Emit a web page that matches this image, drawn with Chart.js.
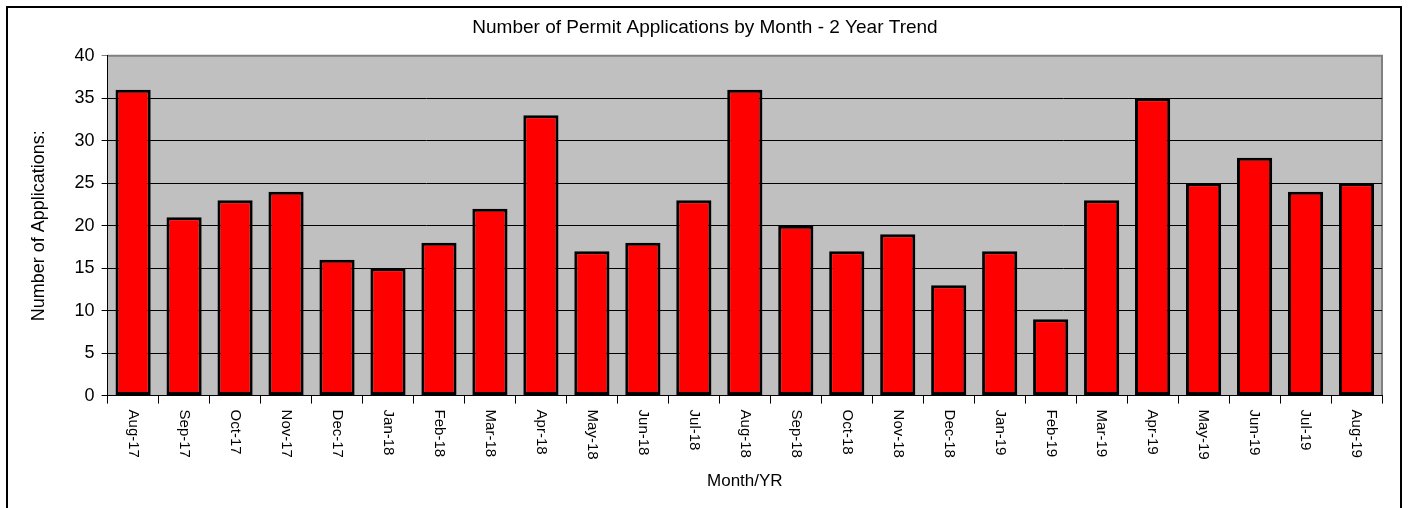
<!DOCTYPE html>
<html>
<head>
<meta charset="utf-8">
<script src="https://cdn.jsdelivr.net/npm/chart.js@4"></script>
<style>
  html, body { margin: 0; padding: 0; background: #fff; }
  #wrap { width: 1408px; height: 508px; position: relative; }
</style>
</head>
<body>
<div id="wrap"><canvas id="permitChart" width="1408" height="508"></canvas></div>
<script>
// Number of permit applications by month

const months = ['Aug-17', 'Sep-17', 'Oct-17', 'Nov-17', 'Dec-17', 'Jan-18', 'Feb-18', 'Mar-18',
    'Apr-18', 'May-18', 'Jun-18', 'Jul-18', 'Aug-18', 'Sep-18', 'Oct-18', 'Nov-18', 'Dec-18',
    'Jan-19', 'Feb-19', 'Mar-19', 'Apr-19', 'May-19', 'Jun-19', 'Jul-19', 'Aug-19'];
const applications = [36, 21, 23, 24, 16, 15, 18, 22, 33, 17, 18, 23, 36, 20, 17, 19, 13,
    17, 9, 23, 35, 25, 28, 24, 25];
const yTicks = [0, 5, 10, 15, 20, 25, 30, 35, 40];

const narrow = "'Liberation Sans Narrow', 'Arial Narrow', 'Liberation Sans', Arial, sans-serif";
const plain = "'Liberation Sans', Arial, sans-serif";

// gray plot area + outer frame + x labels reading top to bottom
const frame = {
    id: 'frame',
    beforeDraw(chart) {
        const ctx = chart.ctx;
        const a = chart.chartArea;
        ctx.save();
        ctx.fillStyle = '#c0c0c0';
        ctx.fillRect(a.left, a.top, a.right - a.left, a.bottom - a.top);
        ctx.strokeStyle = '#808080';
        ctx.lineWidth = 2;
        ctx.beginPath();
        ctx.moveTo(a.left, a.top);
        ctx.lineTo(a.right, a.top);
        ctx.lineTo(a.right, a.bottom);
        ctx.stroke();
        ctx.strokeStyle = '#000';
        ctx.lineWidth = 2;
        ctx.beginPath();
        ctx.moveTo(7, 520);
        ctx.lineTo(7, 7);
        ctx.lineTo(1401, 7);
        ctx.lineTo(1401, 520);
        ctx.stroke();
        ctx.restore();
    },
    afterDraw(chart) {
        const ctx = chart.ctx;
        const xs = chart.scales.x;
        ctx.save();
        ctx.fillStyle = '#000';
        ctx.font = '15px ' + narrow;
        ctx.textAlign = 'left';
        ctx.textBaseline = 'middle';
        months.forEach((m, i) => {
            ctx.save();
            ctx.translate(xs.getPixelForValue(i), chart.chartArea.bottom + 14);
            ctx.rotate(Math.PI / 2);
            ctx.fillText(m, 0, 0);
            ctx.restore();
        });
        ctx.restore();
    }
};

const ctx = document.getElementById('permitChart').getContext('2d');
const myChart = new Chart(ctx, {
    type: 'bar',
    data: {
        labels: months,
        datasets: [{
            label: 'Applications',
            data: applications,
            backgroundColor: '#ff0000',
            borderColor: '#000000',
            borderWidth: 3,
            borderSkipped: false,
            barPercentage: 0.69,
            categoryPercentage: 1.0
        }]
    },
    options: {
        responsive: false,
        animation: false,
        layout: { padding: { left: 28, right: 26, top: 6, bottom: 16 } },
        plugins: {
            legend: { display: false },
            tooltip: { enabled: false },
            title: {
                display: true,
                text: 'Number of Permit Applications by Month - 2 Year Trend',
                color: '#000',
                font: { family: narrow, size: 19, weight: 'normal' },
                padding: { top: 10, bottom: 17 }
            }
        },
        scales: {
            x: {
                grid: { drawOnChartArea: false, drawTicks: true, tickLength: 8, color: '#000', offset: true },
                border: { color: '#000', width: 1 },
                ticks: { minRotation: 90, maxRotation: 90, autoSkip: false, color: 'rgba(0,0,0,0)',
                    font: { family: narrow, size: 15 }, padding: 4 },
                title: { display: true, text: 'Month/YR', color: '#000',
                    font: { family: narrow, size: 17 }, padding: { top: 10, bottom: 0 } }
            },
            y: {
                min: 0,
                max: 40,
                afterBuildTicks(scale) { scale.ticks = yTicks.map(v => ({ value: v })); },
                grid: {
                    color: (c) => (c.tick && c.tick.value === 40 ? '#808080' : '#000'),
                    lineWidth: 1,
                    tickLength: 6
                },
                border: { color: '#000', width: 1 },
                ticks: { color: '#000', font: { family: plain, size: 18 }, padding: 7 },
                title: { display: true, text: 'Number of Applications:', color: '#000',
                    font: { family: narrow, size: 18 }, padding: { top: 0, bottom: 18 } }
            }
        }
    },
    plugins: [frame]
});
</script>
</body>
</html>
